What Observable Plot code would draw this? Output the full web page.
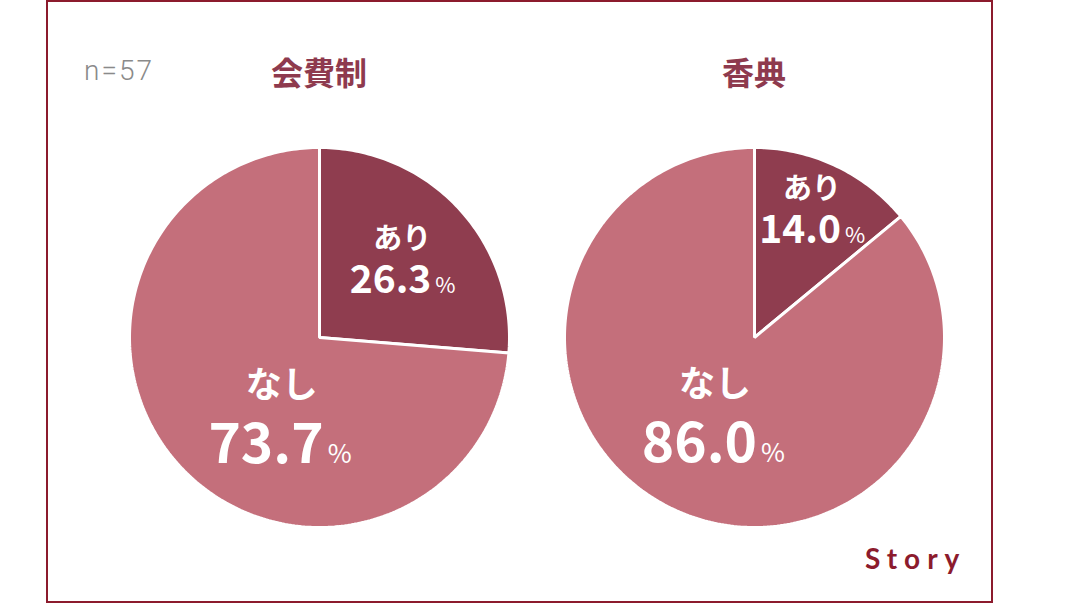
<!DOCTYPE html>
<html>
<head>
<meta charset="utf-8">
<script src="https://cdn.jsdelivr.net/npm/d3@7"></script>
<script src="https://cdn.jsdelivr.net/npm/@observablehq/plot@0.6"></script>
<style>
  html, body { margin: 0; padding: 0; background: #fff; }
  #stage { position: relative; width: 1072px; height: 604px; overflow: hidden; font-family: "Noto Sans CJK JP", sans-serif; }
  #frame { position: absolute; left: 46px; top: 0px; width: 947px; height: 603px; box-sizing: border-box; border: 2px solid #8c1b2d; }
  .title { position: absolute; width: 200px; text-align: center; font-size: 32px; line-height: 32px; font-weight: 700; color: #8e3a4e; }
  #n { position: absolute; left: 84px; top: 55px; font-family: Roboto, sans-serif; font-weight: 300; font-size: 28px; line-height: 32px; color: #8a8a8a; letter-spacing: 2px; }
  #logo { position: absolute; left: 865px; top: 540px; font-family: Lato, sans-serif; font-weight: 700; font-size: 28px; line-height: 36px; color: #8c1b2d; letter-spacing: 7px; }
  .pie { position: absolute; }
</style>
</head>
<body>
<div id="stage">
  <div id="frame"></div>
  <div id="n"></div>
  <div id="logo"></div>
</div>
<script>
// ---- data ----
const chartTitles = ["会費制", "香典"];
const categories = ["あり", "なし"];
const kaihiValues = [26.3, 73.7];
const koudenValues = [14.0, 86.0];
const sampleLabel = "n=57";
const logoText = "Story";

// ---- style / layout ----
const colors = ["#8f3d4f", "#c46f7b"];
const radiusPx = 190;
const pieCenters = [[319, 337], [754, 337]];
const labelStyles = [
  { name: 29, num: 39, pct: 22, nameDy: -44, numEnd: 29, pctStart: 33 },
  { name: 36, num: 55, pct: 26, nameDy: -65, numEnd: 42, pctStart: 46 }
];
const nudges = [
  [[13, 20], [32, 61]],
  [[17, -9], [1, 39]]
];

const stage = document.getElementById("stage");
document.getElementById("n").textContent = sampleLabel;
document.getElementById("logo").textContent = logoText;

function pieChart(values, ci) {
  const total = d3.sum(values);
  let acc = 0;
  const slices = values.map((v, i) => {
    const a0 = acc / total * 2 * Math.PI;
    acc += v;
    const a1 = acc / total * 2 * Math.PI;
    const mid = (a0 + a1) / 2;
    return { key: categories[i], value: v, a0, a1, lx: Math.sin(mid) * 0.5, ly: Math.cos(mid) * 0.5, i };
  });
  const pts = slices.flatMap(s => {
    const n = Math.max(2, Math.ceil((s.a1 - s.a0) / (Math.PI / 180)));
    const arr = [{ key: s.key, x: 0, y: 0 }];
    for (let k = 0; k <= n; k++) {
      const a = s.a0 + (s.a1 - s.a0) * k / n;
      arr.push({ key: s.key, x: Math.sin(a), y: Math.cos(a) });
    }
    return arr;
  });
  const font = "Noto Sans CJK JP";
  const textMarks = slices.flatMap(s => {
    const st = labelStyles[s.i];
    const [nx, ny] = nudges[ci][s.i];
    return [
      Plot.text([s], { x: "lx", y: "ly", text: "key", dx: nx, dy: ny + st.nameDy, fontSize: st.name, fontWeight: 700, fill: "white", fontFamily: font, lineAnchor: "bottom", textAnchor: "middle" }),
      Plot.text([s], { x: "lx", y: "ly", text: d => d.value.toFixed(1), dx: nx + st.numEnd, dy: ny, fontSize: st.num, fontWeight: 700, fill: "white", fontFamily: font, lineAnchor: "bottom", textAnchor: "end" }),
      Plot.text([s], { x: "lx", y: "ly", text: () => "%", dx: nx + st.pctStart, dy: ny, fontSize: st.pct, fontWeight: 400, fill: "white", fontFamily: font, lineAnchor: "bottom", textAnchor: "start" })
    ];
  });
  const size = radiusPx * 2 + 4;
  const svg = Plot.plot({
    width: size, height: size, margin: 2,
    x: { domain: [-1, 1], axis: null },
    y: { domain: [-1, 1], axis: null },
    color: { domain: categories, range: colors },
    style: { background: "transparent", overflow: "visible" },
    marks: [
      Plot.line(pts, { x: "x", y: "y", z: "key", fill: "key", stroke: "white", strokeWidth: 3, strokeLinejoin: "miter", curve: "linear-closed" }),
      ...textMarks
    ]
  });
  svg.classList.add("pie");
  svg.style.left = (pieCenters[ci][0] - size / 2) + "px";
  svg.style.top = (pieCenters[ci][1] - size / 2) + "px";
  stage.appendChild(svg);

  const t = document.createElement("div");
  t.className = "title";
  t.textContent = chartTitles[ci];
  t.style.left = (pieCenters[ci][0] - 100) + "px";
  t.style.top = "55px";
  stage.appendChild(t);
}

pieChart(kaihiValues, 0);
pieChart(koudenValues, 1);
</script>
</body>
</html>
